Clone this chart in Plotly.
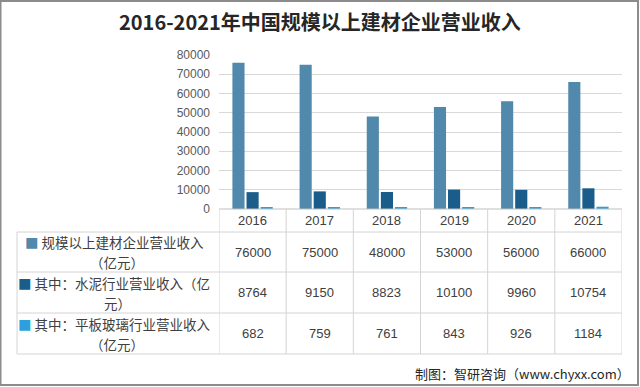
import plotly.graph_objects as go

years = ["2016", "2017", "2018", "2019", "2020", "2021"]
total_rev = [76000, 75000, 48000, 53000, 56000, 66000]
cement_rev = [8764, 9150, 8823, 10100, 9960, 10754]
glass_rev = [682, 759, 761, 843, 926, 1184]
series_names = ["规模以上建材企业营业收入（亿元）", "其中：水泥行业营业收入（亿元）", "其中：平板玻璃行业营业收入（亿元）"]
row_label_lines = [["规模以上建材企业营业收入", "（亿元）"],
                   ["其中：水泥行业营业收入（亿", "元）"],
                   ["其中：平板玻璃行业营业收入", "（亿元）"]]
y_ticks = [0, 10000, 20000, 30000, 40000, 50000, 60000, 70000, 80000]
y_tick_text = ["0", "10000", "20000", "30000", "40000", "50000", "60000", "70000", "80000"]
title = "2016-2021年中国规模以上建材企业营业收入"
source = "制图：智研咨询（www.chyxx.com）"

colors = ["#5089ab", "#1a5c8a", "#2e9fdc"]
series = [total_rev, cement_rev, glass_rev]

W, H = 640, 387
def py(pix):
    return 1 - pix / H

FONT = "Noto Sans CJK SC"
fig = go.Figure()
for name, vals, c in zip(series_names, series, colors):
    fig.add_trace(go.Bar(x=years, y=vals, name=name, marker=dict(color=c, line=dict(width=0)),
                         showlegend=False))

x0, x1 = 219 / W, 622 / W
fig.update_layout(
    width=W, height=H, margin=dict(l=0, r=0, t=0, b=0, autoexpand=False),
    paper_bgcolor="white", plot_bgcolor="white",
    barmode="group", bargap=0.37, bargroupgap=0.14,
    font=dict(family=FONT, color="#404040"),
    xaxis=dict(domain=[x0, x1], type="category", showticklabels=False, showgrid=False,
               zeroline=False, showline=False, range=[-0.5, 5.5], automargin=False),
    yaxis=dict(domain=[py(209), py(55)], range=[0, 80000], tickvals=y_ticks, ticktext=y_tick_text,
               tickfont=dict(size=12, color="#595959", family="Liberation Sans"),
               showgrid=True, gridcolor="#d9d9d9", gridwidth=1, zeroline=False,
               ticks="", ticklabelstandoff=8, showline=False, automargin=False),
)

# title
fig.add_annotation(text="<b>" + title + "</b>", x=0.5, y=py(22), xref="paper", yref="paper",
                   showarrow=False, font=dict(size=20, color="#262626", family=FONT),
                   xanchor="center", yanchor="middle")

# data table
line_c = "#d4d4d4"
row_edges = [209, 232, 272, 313, 354]
fig.add_shape(type="line", xref="x", yref="paper", x0=-0.5, x1=5.5, y0=py(209), y1=py(209),
              line=dict(color="#bfbfbf", width=1))
for r in row_edges[1:]:
    fig.add_shape(type="line", xref="paper", yref="paper", x0=17 / W, x1=x1, y0=py(r), y1=py(r),
                  line=dict(color=line_c, width=1))
for i in range(len(years) + 1):
    fig.add_shape(type="line", xref="x", yref="paper", x0=i - 0.5, x1=i - 0.5, y0=py(209), y1=py(354),
                  line=dict(color=line_c, width=1))
fig.add_shape(type="line", xref="paper", yref="paper", x0=17 / W, x1=17 / W, y0=py(232), y1=py(354),
              line=dict(color=line_c, width=1))

# header
for i, yr in enumerate(years):
    fig.add_annotation(text=yr, x=i, y=py(220.5), xref="x", yref="paper", showarrow=False,
                       xanchor="center", yanchor="middle",
                       font=dict(size=13, color="#404040", family="Liberation Sans"))
# rows
for ri, (lines, vals, c) in enumerate(zip(row_label_lines, series, colors)):
    yc = (row_edges[ri + 1] + row_edges[ri + 2]) / 2
    for i, v in enumerate(vals):
        fig.add_annotation(text=str(v), x=i, y=py(yc), xref="x", yref="paper", showarrow=False,
                           xanchor="center", yanchor="middle",
                           font=dict(size=13, color="#404040", family="Liberation Sans"))
    fig.add_annotation(text=f'<span style="color:{c}">■</span> ' + lines[0], x=114 / W, y=py(yc - 10),
                       xref="paper", yref="paper", showarrow=False,
                       xanchor="center", yanchor="middle",
                       font=dict(size=13.5, color="#404040", family=FONT))
    fig.add_annotation(text=lines[1], x=117 / W, y=py(yc + 10),
                       xref="paper", yref="paper", showarrow=False,
                       xanchor="center", yanchor="middle",
                       font=dict(size=13.5, color="#404040", family=FONT))

# source
fig.add_annotation(text=source, x=632 / W, y=py(373), xref="paper", yref="paper", showarrow=False,
                   xanchor="right", yanchor="middle", font=dict(size=13, color="#262626", family=FONT))

# outer border
fig.add_shape(type="rect", xref="paper", yref="paper", x0=0.5 / W, x1=1 - 2 / W, y0=2 / H, y1=1 - 1 / H,
              line=dict(color="#8c8c8c", width=2))

fig.write_html("out.html")
